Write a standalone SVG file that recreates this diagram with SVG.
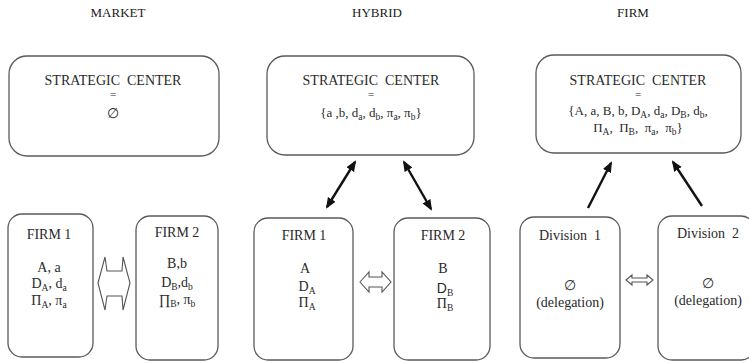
<svg xmlns="http://www.w3.org/2000/svg" width="749" height="363" viewBox="0 0 749 363">
<style>
text{font-family:"Liberation Serif","Times New Roman",serif;fill:#2a2a2a;text-anchor:middle;}
.title{font-size:13px;fill:#1a1a1a;}
.hd{font-size:14px;}
.eq{font-size:11px;}
.bd{font-size:14px;}
.box{fill:#fff;stroke:#5a5a5a;stroke-width:1.3;}
.sub{font-size:9.5px;}
.arr{stroke:#111;stroke-width:2.4;fill:none;}
.hollow{fill:#fff;stroke:#555;stroke-width:1.1;stroke-linejoin:miter;}
</style>
<defs>
<marker id="ah" markerUnits="userSpaceOnUse" markerWidth="12" markerHeight="10" refX="9" refY="4.5" orient="auto-start-reverse" viewBox="0 0 12 9">
<path d="M0,0 L11,4.5 L0,9 Z" fill="#111"/>
</marker>
</defs>

<text class="title" x="118" y="17">MARKET</text>
<text class="title" x="377" y="17">HYBRID</text>
<text class="title" x="633" y="17">FIRM</text>

<g id="market-center">
<rect class="box" x="9" y="56" width="210" height="100" rx="18"/>
<text class="hd" x="113" y="85">STRATEGIC&#160;&#160;CENTER</text>
<text class="eq" x="113" y="98">=</text>
<text class="hd" x="113" y="118">∅</text>
</g>

<g id="hybrid-center">
<rect class="box" x="267" y="56" width="207" height="99" rx="18"/>
<text class="hd" x="371" y="85">STRATEGIC&#160;&#160;CENTER</text>
<text class="eq" x="371" y="98">=</text>
<text class="bd" x="371" y="117" style="font-size:13px">{a ,b, d<tspan class="sub" dy="2.5">a</tspan><tspan dy="-2.5">, d</tspan><tspan class="sub" dy="2.5">b</tspan><tspan dy="-2.5">, π</tspan><tspan class="sub" dy="2.5">a</tspan><tspan dy="-2.5">, π</tspan><tspan class="sub" dy="2.5">b</tspan><tspan dy="-2.5">}</tspan></text>
</g>

<g id="firm-center">
<rect class="box" x="536" y="55" width="205" height="98" rx="18"/>
<text class="hd" x="638" y="85">STRATEGIC&#160;&#160;CENTER</text>
<text class="eq" x="638" y="98">=</text>
<text class="bd" x="638" y="115" style="font-size:13px">{A, a, B, b, D<tspan class="sub" dy="2.5">A</tspan><tspan dy="-2.5">, d</tspan><tspan class="sub" dy="2.5">a</tspan><tspan dy="-2.5">, D</tspan><tspan class="sub" dy="2.5">B</tspan><tspan dy="-2.5">, d</tspan><tspan class="sub" dy="2.5">b</tspan><tspan dy="-2.5">,</tspan></text>
<text class="bd" x="638" y="132" style="font-size:13px">Π<tspan class="sub" dy="2.5">A</tspan><tspan dy="-2.5">,&#160; Π</tspan><tspan class="sub" dy="2.5">B</tspan><tspan dy="-2.5">,&#160; π</tspan><tspan class="sub" dy="2.5">a</tspan><tspan dy="-2.5">,&#160; π</tspan><tspan class="sub" dy="2.5">b</tspan><tspan dy="-2.5">}</tspan></text>
</g>

<g id="market-firm1">
<rect class="box" x="8" y="214" width="85" height="143" rx="14"/>
<text class="hd" x="49" y="239">FIRM 1</text>
<text class="bd" x="49" y="272">A, a</text>
<text class="bd" x="49" y="288">D<tspan class="sub" dy="3">A</tspan><tspan dy="-3">, d</tspan><tspan class="sub" dy="3">a</tspan></text>
<text class="bd" x="49" y="305">Π<tspan class="sub" dy="3">A</tspan><tspan dy="-3">, π</tspan><tspan class="sub" dy="3">a</tspan></text>
</g>

<g id="market-firm2">
<rect class="box" x="136" y="216" width="82" height="144" rx="14"/>
<text class="hd" x="177" y="237">FIRM 2</text>
<text class="bd" x="177" y="268">B,b</text>
<text class="bd" x="177" y="287">D<tspan class="sub" dy="3">B</tspan><tspan dy="-3">,d</tspan><tspan class="sub" dy="3">b</tspan></text>
<text class="bd" x="177" y="304">∏<tspan class="sub" dy="3">B</tspan><tspan dy="-3">, π</tspan><tspan class="sub" dy="3">b</tspan></text>
</g>

<g id="hybrid-firm1">
<rect class="box" x="254" y="218" width="99" height="142" rx="14"/>
<text class="hd" x="304" y="240">FIRM 1</text>
<text class="bd" x="305" y="273">A</text>
<text class="bd" x="307" y="291">D<tspan class="sub" dy="3">A</tspan></text>
<text class="bd" x="307" y="307">Π<tspan class="sub" dy="3">A</tspan></text>
</g>

<g id="hybrid-firm2">
<rect class="box" x="394" y="218" width="96" height="142" rx="14"/>
<text class="hd" x="443" y="240">FIRM 2</text>
<text class="bd" x="443" y="273">B</text>
<text class="bd" x="445" y="293"><tspan style="font-family:'Liberation Sans',Arial,sans-serif">D</tspan><tspan class="sub" dy="3">B</tspan></text>
<text class="bd" x="445" y="308">Π<tspan class="sub" dy="3">B</tspan></text>
</g>

<g id="division1">
<rect class="box" x="520" y="217" width="100" height="141" rx="14"/>
<text class="hd" x="570" y="240">Division&#160;&#160;1</text>
<text class="bd" x="570" y="290">∅</text>
<text class="bd" x="570" y="307">(delegation)</text>
</g>

<g id="division2">
<rect class="box" x="658" y="216" width="97" height="144" rx="14"/>
<text class="hd" x="708" y="238">Division&#160; 2</text>
<text class="bd" x="708" y="288">∅</text>
<text class="bd" x="708" y="305">(delegation)</text>
</g>

<g id="connectors">
<polygon class="hollow" points="98,283 105,257 107,271 122,271 123,257 130,283 123,310 122,296 107,296 105,310"/>
<polygon class="hollow" points="360,282 369,272 369,277 382,277 382,272 391,282 382,292 382,287 369,287 369,292"/>
<polygon class="hollow" points="626,280 632,275 632,278 647,278 647,275 653,280 647,285 647,282 632,282 632,285"/>
<line class="arr" x1="327" y1="207" x2="355" y2="162" marker-start="url(#ah)" marker-end="url(#ah)"/>
<line class="arr" x1="404" y1="162" x2="431" y2="209" marker-start="url(#ah)" marker-end="url(#ah)"/>
<line class="arr" x1="588" y1="208" x2="611" y2="163" marker-end="url(#ah)"/>
<line class="arr" x1="702" y1="206" x2="673" y2="162" marker-end="url(#ah)"/>
</g>
</svg>
